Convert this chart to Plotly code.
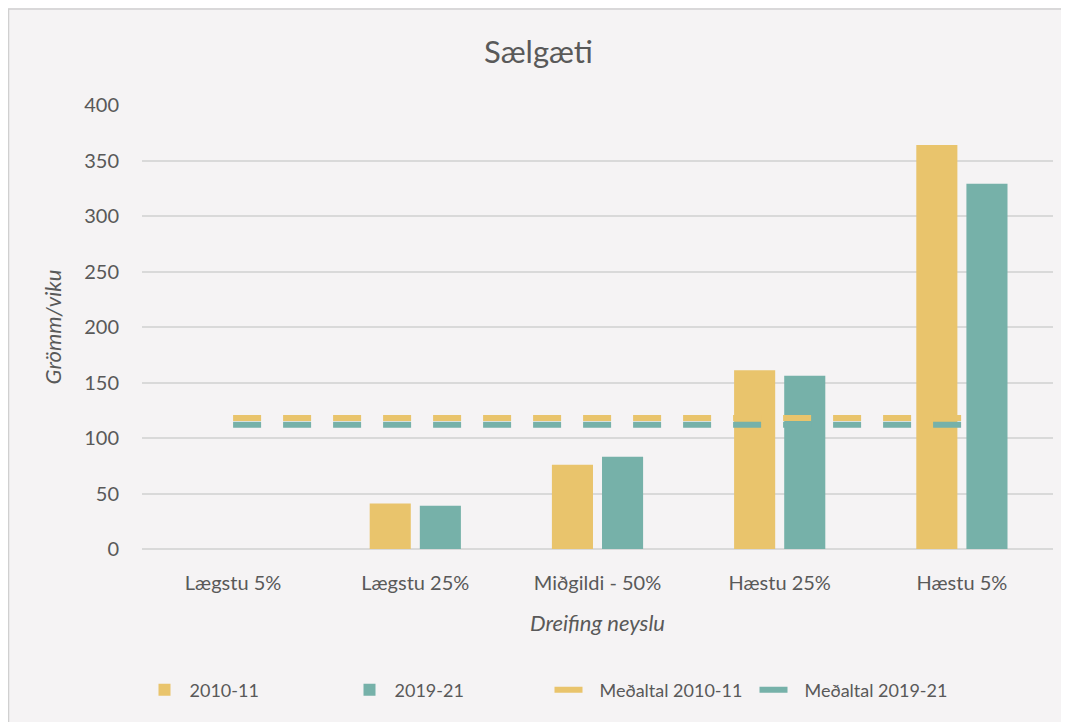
import plotly.graph_objects as go

categories = ["Lægstu 5%", "Lægstu 25%", "Miðgildi - 50%", "Hæstu 25%", "Hæstu 5%"]
values_2010 = [0, 41, 76, 161, 364]
values_2019 = [0, 39, 83, 156, 329]
mean_2010 = 118
mean_2019 = 112

YELLOW = "#E9C46C"
TEAL = "#76B1A9"
TEXT = "#595959"
BG = "#F5F3F4"
FONT = "Lato, 'Noto Sans', sans-serif"

# the page body has an 8px margin, so the figure is 8px smaller than the window
W, H = 1061, 714
L, R, T, B = 134, 16, 97, 173
PW, PH = W - L - R, H - T - B


def px_x(fx):
    return (fx - L) / PW


def px_y(fy):
    return (H - B - fy) / PH


fig = go.Figure()
fig.add_trace(go.Bar(
    x=categories, y=values_2010, name="2010-11",
    marker={"color": YELLOW, "line": {"width": 0}},
))
fig.add_trace(go.Bar(
    x=categories, y=values_2019, name="2019-21",
    marker={"color": TEAL, "line": {"width": 0}},
))
fig.add_trace(go.Scatter(
    x=categories, y=[mean_2010] * len(categories), name="Meðaltal 2010-11",
    mode="lines", line={"color": YELLOW, "width": 6, "dash": "28px,22px"},
))
fig.add_trace(go.Scatter(
    x=categories, y=[mean_2019] * len(categories), name="Meðaltal 2019-21",
    mode="lines", line={"color": TEAL, "width": 6, "dash": "28px,22px"},
))

fig.update_layout(
    width=W,
    height=H,
    paper_bgcolor=BG,
    plot_bgcolor=BG,
    font={"family": FONT, "color": TEXT, "size": 20},
    margin={"l": L, "r": R, "t": T, "b": B},
    barmode="group",
    bargap=0.45,
    bargroupgap=0.18,
    title={
        "text": "Sælgæti",
        "x": 0.5,
        "xanchor": "center",
        "y": 1 - 44 / H,
        "yanchor": "middle",
        "font": {"size": 31, "color": TEXT},
    },
    xaxis={
        "title": {"text": "<i>Dreifing neyslu</i>", "standoff": 22, "font": {"size": 22}},
        "showgrid": False,
        "showline": False,
        "ticks": "",
        "ticklabelstandoff": 20,
        "tickfont": {"size": 20},
    },
    yaxis={
        "title": {"text": "<i>Grömm/viku</i>", "standoff": 16, "font": {"size": 22}},
        "range": [0, 400],
        "dtick": 50,
        "showgrid": True,
        "gridcolor": "#D9D9D9",
        "gridwidth": 1.5,
        "zeroline": True,
        "zerolinecolor": "#D9D9D9",
        "zerolinewidth": 1.5,
        "ticks": "",
        "ticklabelstandoff": 22,
        "tickfont": {"size": 20},
    },
    legend={
        "orientation": "h",
        "x": 0.5 - 48 / PW,
        "xanchor": "center",
        "y": px_y(682),
        "yanchor": "middle",
        "bgcolor": "rgba(0,0,0,0)",
        "font": {"size": 18},
        "itemwidth": 40,
        "entrywidth": 150,
        "entrywidthmode": "pixels",
        "traceorder": "normal",
    },
    shapes=[
        {
            "type": "rect",
            "xref": "paper",
            "yref": "paper",
            "x0": px_x(0.5),
            "x1": px_x(W + 10),
            "y0": px_y(H + 10),
            "y1": px_y(1),
            "line": {"color": "#D0D0D0", "width": 1.5},
            "layer": "below",
        }
    ],
)

fig.write_html("out.html")
